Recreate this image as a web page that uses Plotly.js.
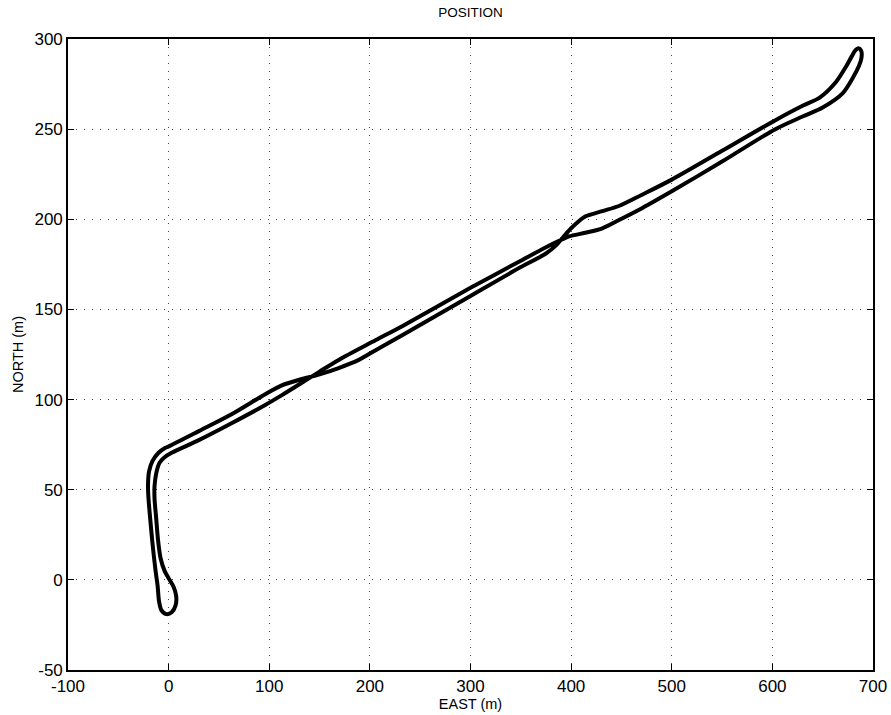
<!DOCTYPE html>
<html>
<head>
<meta charset="utf-8">
<script src="https://cdn.plot.ly/plotly-3.0.1.min.js"></script>
<style>html,body{margin:0;padding:0;background:#fff;}#chart{width:891px;height:715px;}</style>
</head>
<body>
<div id="chart"></div>
<script>
// Vehicle track
const east = [1, 5, 7.5, 7, 3, -2, -7, -9.5, -11, -13, -16, -18, -20, -20.5, -19.5, -16, -10, -4, 0,
  30, 63, 96, 113, 130, 150, 169, 189, 200, 233, 300, 350, 375, 385, 392, 400, 414, 431, 448, 470, 500,
  550, 603, 630, 647, 663, 673, 679, 683, 686, 688.5, 688.5, 686, 680, 670, 650, 630, 603, 550,
  500, 470, 448, 431, 414, 398, 388, 375, 350, 300, 233, 206, 169, 150, 130, 113, 96, 63, 30, 3,
  -4, -9, -12, -14, -14, -12.5, -10.5, -8, -4, 1];
const north = [0, -4, -9, -14, -18, -19, -17, -12, -3, 5, 20, 32, 45, 52, 60, 66, 70.5, 73, 74,
  82.5, 92, 103, 108, 111, 114, 117.5, 122, 125.5, 136, 157.5, 173.5, 181, 185.5, 190, 195, 201.5, 204.5, 207.5, 213.5, 222,
  238, 255, 263, 267.5, 276, 284.5, 290.5, 294, 294.8, 293, 289.5, 285, 278.5, 270, 262, 257, 250, 232,
  215.5, 206, 199.7, 195, 192.5, 190.5, 188, 184.5, 177, 162, 141, 133, 122, 115.5, 108.5, 102.6, 97, 87, 77.5, 70.5,
  68, 65, 60, 52, 45, 35, 22, 12, 5, 0];

const xTicks = [-100, 0, 100, 200, 300, 400, 500, 600, 700];
const xTickText = ["-100", "0", "100", "200", "300", "400", "500", "600", "700"];
const yTicks = [-50, 0, 50, 100, 150, 200, 250, 300];
const yTickText = ["-50", "0", "50", "100", "150", "200", "250", "300"];

const fam = "Liberation Sans, Arial, sans-serif";

const trace = {
  x: east, y: north, type: "scatter", mode: "lines",
  line: {color: "#000", width: 4, shape: "spline", smoothing: 0.8},
  hoverinfo: "skip", showlegend: false
};

const axisCommon = {
  showline: true, linecolor: "#000", linewidth: 1.8, mirror: "ticks",
  ticks: "inside", ticklen: 6, tickcolor: "#000", tickwidth: 1,
  showgrid: true, gridcolor: "#444", gridwidth: 1, griddash: "1px,7px",
  zeroline: false, automargin: false,
  tickfont: {family: fam, color: "#000", size: 17}
};

const layout = {
  width: 891, height: 715,
  margin: {l: 68, r: 18, t: 39, b: 45},
  paper_bgcolor: "#fff", plot_bgcolor: "#fff",
  font: {family: fam, color: "#000", size: 14},
  title: {text: "POSITION", font: {family: fam, color: "#000", size: 13.5},
    x: 0.5, xref: "paper", y: 1 - 12/715, yref: "container", yanchor: "middle"},
  xaxis: Object.assign({}, axisCommon, {
    range: [-100, 700], tickmode: "array", tickvals: xTicks, ticktext: xTickText,
    title: {text: "EAST (m)", font: {family: fam, color: "#000", size: 14.5}, standoff: 2}
  }),
  yaxis: Object.assign({}, axisCommon, {
    range: [-50, 300], tickmode: "array", tickvals: yTicks, ticktext: yTickText,
    title: {text: "NORTH (m)", font: {family: fam, color: "#000", size: 14.5}, standoff: 7}
  })
};

Plotly.newPlot("chart", [trace], layout, {staticPlot: true, displayModeBar: false});
</script>
</body>
</html>
